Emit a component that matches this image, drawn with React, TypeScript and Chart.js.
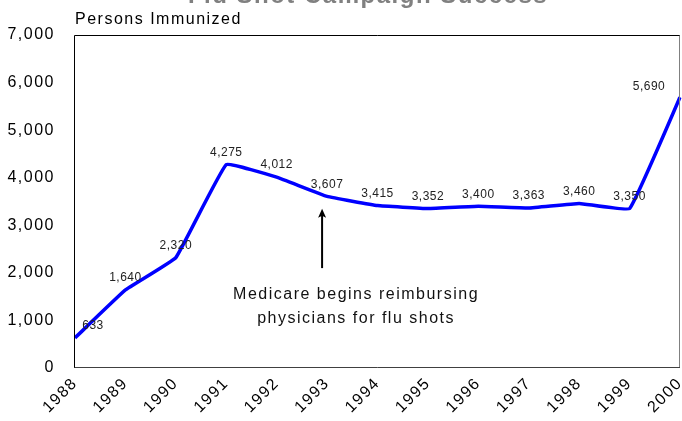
import React, { useEffect, useRef } from 'react';
import { Chart, registerables } from 'chart.js';

Chart.register(...registerables);

const years = ['1988', '1989', '1990', '1991', '1992', '1993', '1994', '1995', '1996', '1997', '1998', '1999', '2000'];
const persons = [633, 1640, 2320, 4275, 4012, 3607, 3415, 3352, 3400, 3363, 3460, 3350, 5690];
const yMin = 0;
const yMax = 7000;
const yStep = 1000;
const chartTitle = 'Flu Shot Campaign Success';
const axisTitle = 'Persons Immunized';
const annotationLines = ['Medicare begins reimbursing', 'physicians for flu shots'];
const annotationIndex = 5;
const arrowFrom = 2100;
const arrowTo = 3350;

const fmt = (v: number) => v.toLocaleString('en-US');

const FONT = '"Liberation Sans", Arial, sans-serif';

const overlay = {
  id: 'overlay',
  beforeLayout(chart: any) {
    chart.ctx.letterSpacing = '1.5px';
  },
  beforeDraw(chart: any) {
    const ctx = chart.ctx;
    ctx.letterSpacing = '1.5px';
    ctx.save();
    ctx.fillStyle = '#ffffff';
    ctx.fillRect(0, 0, chart.width, chart.height);
    ctx.restore();
  },
  afterDraw(chart: any) {
    const ctx = chart.ctx;
    const { left, right, top, bottom } = chart.chartArea;
    const xs = chart.scales.x;
    const ys = chart.scales.y;
    ctx.save();
    // plot border
    ctx.lineWidth = 1;
    ctx.strokeStyle = '#000';
    ctx.beginPath();
    ctx.moveTo(left - 0.5, bottom);
    ctx.lineTo(left - 0.5, top + 0.5);
    ctx.lineTo(right, top + 0.5);
    ctx.stroke();
    ctx.strokeStyle = '#808080';
    ctx.beginPath();
    ctx.moveTo(right - 0.5, top + 0.5);
    ctx.lineTo(right - 0.5, bottom - 0.5);
    ctx.stroke();
    ctx.strokeStyle = '#404040';
    ctx.beginPath();
    ctx.moveTo(left - 0.5, bottom - 0.5);
    ctx.lineTo(right, bottom - 0.5);
    ctx.stroke();

    // data labels
    ctx.font = `12px ${FONT}`;
    ctx.letterSpacing = '0.5px';
    ctx.fillStyle = '#222';
    ctx.textBaseline = 'middle';
    ctx.textAlign = 'center';
    const n = persons.length;
    persons.forEach((v, i) => {
      const px = xs.getPixelForValue(i);
      const py = ys.getPixelForValue(v);
      let dx = 0;
      let dy = -12;
      if (i === 0) dx = 18;
      if (i === n - 1) { dx = -31; dy = -11; }
      ctx.fillText(fmt(v), px + dx, py + dy);
    });

    // arrow
    const ax = xs.getPixelForValue(annotationIndex) - 5;
    const ay1 = ys.getPixelForValue(arrowFrom);
    const ay2 = ys.getPixelForValue(arrowTo);
    ctx.strokeStyle = '#000';
    ctx.fillStyle = '#000';
    ctx.lineWidth = 2;
    ctx.beginPath();
    ctx.moveTo(ax, ay1);
    ctx.lineTo(ax, ay2 + 6);
    ctx.stroke();
    ctx.beginPath();
    ctx.moveTo(ax, ay2);
    ctx.lineTo(ax - 4, ay2 + 9);
    ctx.lineTo(ax, ay2 + 7);
    ctx.lineTo(ax + 4, ay2 + 9);
    ctx.closePath();
    ctx.fill();

    // annotation text
    ctx.font = `16px ${FONT}`;
    ctx.letterSpacing = '1.5px';
    ctx.fillStyle = '#111';
    const tx = xs.getPixelForValue(annotationIndex) + 29;
    annotationLines.forEach((line, k) => {
      ctx.fillText(line, tx, ay1 + 26 + k * 24);
    });

    // axis title
    ctx.textAlign = 'left';
    ctx.textBaseline = 'alphabetic';
    ctx.fillStyle = '#000';
    ctx.fillText(axisTitle, left, top - 11);

    // chart title (clipped at top)
    ctx.font = `bold 24px ${FONT}`;
    ctx.fillStyle = '#808080';
    ctx.textAlign = 'center';
    ctx.fillText(chartTitle, 368, 3);
    ctx.restore();
  },
};

export default function App() {
  const ref = useRef<HTMLCanvasElement | null>(null);
  useEffect(() => {
    document.body.style.margin = '0';
    const canvas = ref.current;
    if (!canvas) return;
    const chart = new Chart(canvas, {
      type: 'line',
      data: {
        labels: years,
        datasets: [
          {
            data: persons,
            borderColor: '#0000ff',
            borderWidth: 3.5,
            pointRadius: 0,
            tension: 0.08,
            fill: false,
          },
        ],
      },
      options: {
        animation: false,
        responsive: false,
        devicePixelRatio: 1,
        layout: { padding: { top: 35, right: 2, left: 0, bottom: 0 } },
        plugins: { legend: { display: false }, tooltip: { enabled: false }, title: { display: false } },
        scales: {
          x: {
            offset: false,
            grid: { display: false, drawTicks: false },
            border: { display: false },
            ticks: {
              minRotation: 45,
              maxRotation: 45,
              padding: 6,
              color: '#000',
              font: { family: FONT, size: 16 },
              autoSkip: false,
            },
            afterFit: (s: any) => { s.height = 53; s.paddingRight = 0; s.paddingLeft = 0; },
          },
          y: {
            min: yMin,
            max: yMax,
            grid: { display: false, drawTicks: false },
            border: { display: false },
            ticks: {
              stepSize: yStep,
              padding: 20,
              color: '#000',
              font: { family: FONT, size: 16 },
              callback: (v: any) => fmt(Number(v)),
            },
            afterFit: (s: any) => { s.width = 75; s.paddingTop = 0; s.paddingBottom = 0; },
          },
        },
      },
      plugins: [overlay],
    });
    return () => chart.destroy();
  }, []);
  return <canvas ref={ref} width={682} height={421} style={{ display: 'block' }} />;
}
